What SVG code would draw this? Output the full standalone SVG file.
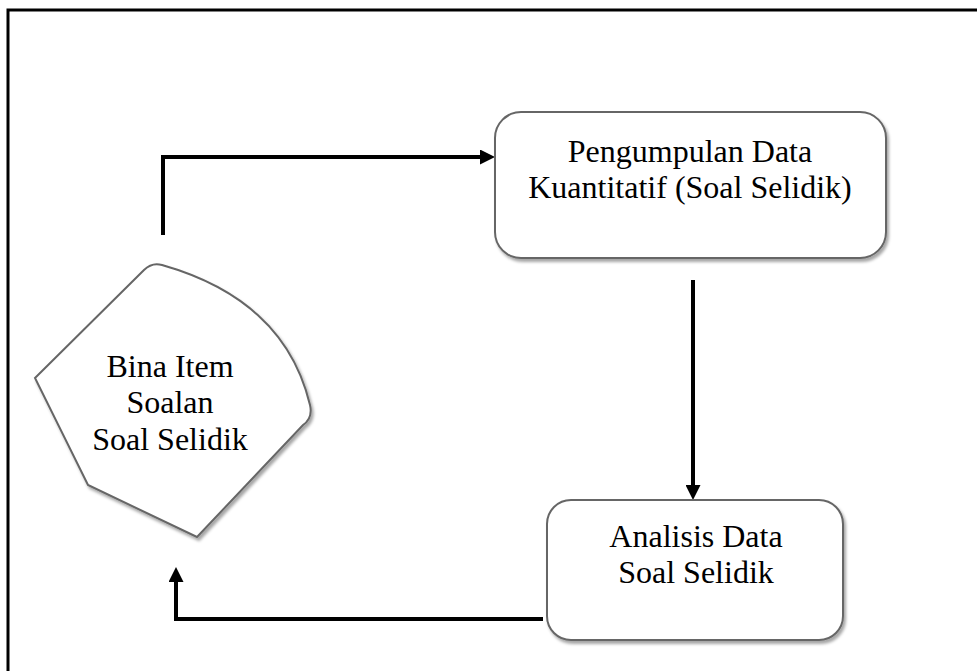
<svg xmlns="http://www.w3.org/2000/svg" width="977" height="671" viewBox="0 0 977 671">
  <defs>
    <filter id="sh" x="-10%" y="-10%" width="130%" height="130%">
      <feDropShadow dx="2" dy="3" stdDeviation="1.5" flood-color="#000" flood-opacity="0.35"/>
    </filter>
    <marker id="ah" markerWidth="3.75" markerHeight="3.75" refX="0.5" refY="1.875" orient="auto" markerUnits="strokeWidth">
      <path d="M0,0 L3.75,1.875 L0,3.75 Z" fill="#000"/>
    </marker>
  </defs>
  <style>
    .shape { fill: #fff; stroke: #666; stroke-width: 2; filter: url(#sh); }
    .lbl { font-family: "Liberation Serif", "Times New Roman", serif; font-size: 32px; fill: #000; text-anchor: middle; }
    .conn { fill: none; stroke: #000; stroke-width: 4; marker-end: url(#ah); }
    .border { stroke: #000; stroke-width: 3; fill: none; }
  </style>
  <rect width="977" height="671" fill="#fff"/>
  <path class="border" d="M8,671 L8,10 L977,10"/>

  <g id="connectors">
    <path class="conn" d="M163,235 L163,157 L482,157"/>
    <path class="conn" d="M693,280 L693,487"/>
    <path class="conn" d="M543,619 L176,619 L176,580"/>
  </g>

  <g id="node-bina">
    <path class="shape" d="M35,378 L144,270 Q152,262 162,265 Q285,300 310,405 Q313,418 303,425 L197,537 L88,485 Z"/>
    <text class="lbl" x="170" y="377">Bina Item</text>
    <text class="lbl" x="170" y="413">Soalan</text>
    <text class="lbl" x="170" y="450">Soal Selidik</text>
  </g>

  <g id="node-pengumpulan">
    <rect class="shape" x="495" y="112" width="391" height="146" rx="26" ry="26"/>
    <text class="lbl" x="690" y="162">Pengumpulan Data</text>
    <text class="lbl" x="690" y="198">Kuantitatif (Soal Selidik)</text>
  </g>

  <g id="node-analisis">
    <rect class="shape" x="547" y="500" width="296" height="140" rx="24" ry="24"/>
    <text class="lbl" x="696" y="547">Analisis Data</text>
    <text class="lbl" x="696" y="583">Soal Selidik</text>
  </g>
</svg>
